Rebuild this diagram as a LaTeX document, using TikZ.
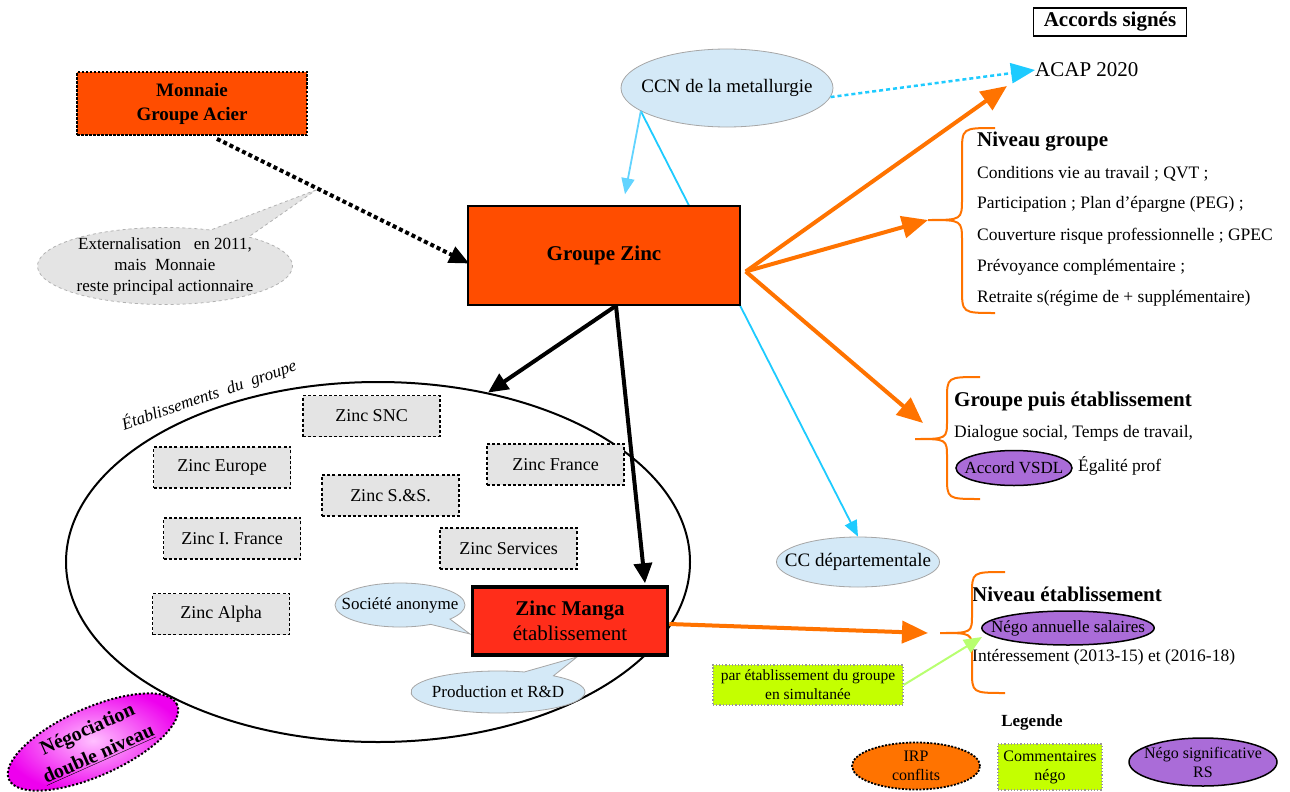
\documentclass[tikz,border=0pt]{standalone}
\usepackage{fontspec}
\setmainfont{Liberation Serif}
\usetikzlibrary{shapes.geometric,shapes.callouts,arrows.meta,calc}
\definecolor{zred}{HTML}{FF4D00}
\definecolor{zmanga}{HTML}{FF2D1A}
\definecolor{zorange}{HTML}{FF7300}
\definecolor{zlime}{HTML}{C4FF00}
\definecolor{zpurple}{HTML}{AA6CD8}
\definecolor{zblue}{HTML}{D4E9F7}
\definecolor{zgrey}{HTML}{E4E4E4}
\definecolor{zcyan}{HTML}{1ECBFF}
\definecolor{zcyanl}{HTML}{62D4FF}
\definecolor{zgreen}{HTML}{B8FF70}
\definecolor{zmagin}{HTML}{FFC0FF}
\definecolor{zmagout}{HTML}{EE00EE}
\newcommand{\myfs}[2]{\fontsize{#1}{#2}\selectfont}
\begin{document}
\begin{tikzpicture}[x=1pt,y=-1pt,
 zbox/.style={draw, line width=1.8pt, dash pattern=on 3pt off 2.2pt, fill=zgrey, minimum width=137pt, minimum height=41pt, font=\myfs{18}{22}},
 bluebub/.style={ellipse callout, draw=gray!70, fill=zblue, line width=0.8pt, callout pointer arc=22, inner xsep=-16pt, inner ysep=0pt, font=\myfs{17}{21}},
 blueell/.style={ellipse, draw=gray!70, fill=zblue, line width=0.8pt, inner xsep=-20pt, inner ysep=0pt, font=\myfs{19}{23}},
 heading/.style={anchor=west, font=\myfs{21}{25}\bfseries, inner sep=0pt},
 item/.style={anchor=west, font=\myfs{17.5}{21}, inner sep=0pt},
 oarrow/.style={draw=zorange, line width=4pt, -{Triangle[length=26pt,width=22pt]}},
 barrow/.style={draw=black, line width=4pt, -{Triangle[length=20pt,width=18pt]}},
 obrace/.style={draw=zorange, line width=2pt},
 purpell/.style={ellipse, draw, line width=1.5pt, fill=zpurple, inner xsep=-16pt, inner ysep=-5pt, font=\myfs{17}{20}},
 limebox/.style={draw=gray!80, dotted, line width=1.2pt, fill=zlime, align=center, inner sep=2pt}
]
\fill[white] (0,0) rectangle (1290,792);
\useasboundingbox (0,0) rectangle (1290,792);

% blue ellipses and the long cyan line (behind Groupe Zinc)
\node[blueell, minimum width=212pt, minimum height=78pt] (ccn) at (727,88) {CCN de la metallurgie};
\node[blueell, minimum width=163pt, minimum height=50pt] (ccdep) at (858,562) {CC départementale};
\draw[draw=zcyan, line width=1.8pt, -{Triangle[length=16pt,width=13pt]}] (ccn.195) -- (ccdep.north);

% big ellipse with establishments
\node[ellipse, draw, line width=2pt, minimum width=624pt, minimum height=360pt] (etab) at (378,562) {};
\node[rotate=19, font=\myfs{17}{20}\itshape] (etablab) at (209,395) {Établissements\ \ du\ \ groupe};
\node[zbox] (snc) at (371.5,416) {Zinc SNC};
\node[zbox] (eur) at (222,467.5) {Zinc Europe};
\node[zbox] (fra) at (555.5,464.5) {Zinc France};
\node[zbox] (ss) at (390.5,495.5) {Zinc S.\&S.};
\node[zbox] (ifr) at (232,538.5) {Zinc I. France};
\node[zbox] (serv) at (508.5,548.5) {Zinc Services};
\node[zbox] (alpha) at (221,614) {Zinc Alpha};

% callouts round Zinc Manga
\node[bluebub, minimum width=130pt, minimum height=44pt, callout absolute pointer={(470,634)}] (soc) at (400,605) {Société anonyme};
\node[bluebub, minimum width=174pt, minimum height=42pt, callout absolute pointer={(577,657)}] (prod) at (498,692) {Production et R\&D};
\node[draw, line width=3.5pt, fill=zmanga, minimum width=195pt, minimum height=68pt, align=center, font=\myfs{21}{25}] (zm) at (570,621) {\bfseries Zinc Manga\\établissement};

% top left
\node[draw, line width=1.8pt, dash pattern=on 2.5pt off 1.5pt, fill=zred, minimum width=230pt, minimum height=63pt, align=center, font=\myfs{19}{24}\bfseries] (monnaie) at (192,103.5) {Monnaie\\Groupe Acier};
\node[ellipse callout, draw=gray!60, dashed, line width=0.8pt, fill=zgrey, inner xsep=-6pt, inner ysep=-6pt, minimum width=255pt, minimum height=77pt, callout absolute pointer={(316,190)}, callout pointer arc=20, align=center, font=\myfs{17}{21}] (ext) at (165,266) {Externalisation\ \ \ en 2011,\\mais\ \ Monnaie\\reste\ principal\ actionnaire};

% Groupe Zinc
\node[draw, line width=1.5pt, fill=zred, minimum width=272pt, minimum height=99pt, font=\myfs{21}{25}\bfseries] (gz) at (604,255.5) {Groupe Zinc};
\coordinate (gzc) at ($(gz.north)+(21,-11)$);
\draw[draw=zcyanl, line width=1.8pt, -{Triangle[length=16pt,width=13pt]}] (ccn.195) -- (gzc);

% right side texts
\node[draw, line width=1.2pt, minimum width=153pt, minimum height=28pt, inner sep=1pt, font=\myfs{21}{24}\bfseries] (acc) at (1110,22) {Accords signés};
\node[anchor=west, inner sep=0pt, font=\myfs{21}{25}] (acap) at (1035,70) {ACAP 2020};

\node[heading] (ng) at (977,142) {Niveau groupe};
\node[item] (ng1) at (977,174) {Conditions vie au travail ; QVT ;};
\node[item] (ng2) at (977,204) {Participation ; Plan d'épargne (PEG) ;};
\node[item] (ng3) at (977,236) {Couverture risque professionnelle ; GPEC};
\node[item] (ng4) at (977,267) {Prévoyance complémentaire ;};
\node[item] (ng5) at (977,298) {Retraite s(régime de + supplémentaire)};

\node[heading] (gpe) at (954,401) {Groupe puis établissement};
\node[item] (gpe1) at (954,433) {Dialogue social, Temps de travail,};
\node[purpell, minimum width=116pt, minimum height=35pt] (vsdl) at (1014,468) {Accord VSDL};
\node[item] (egal) at (1078,466) {Égalité prof};

\node[heading] (ne) at (972,594) {Niveau établissement};
\node[purpell, minimum width=172pt, minimum height=34pt] (nas) at (1068,628) {Négo annuelle salaires};
\node[item] (int) at (972,657) {Intéressement (2013-15) et (2016-18)};

\node[limebox, minimum width=190pt, minimum height=40pt, font=\myfs{15.5}{19}] (par) at (808,685) {par établissement du groupe\\en simultanée};

% braces
\draw[obrace] (995,128) .. controls (962,128) .. (962,153) -- (962,198) .. controls (962,220) .. (928,220) .. controls (962,220) .. (962,242) -- (962,288) .. controls (962,313) .. (995,313);
\draw[obrace] (980,377) .. controls (947,377) .. (947,400) -- (947,420) .. controls (947,439) .. (915,439) .. controls (947,439) .. (947,458) -- (947,476) .. controls (947,499) .. (980,499);
\draw[obrace] (1005,572) .. controls (972,572) .. (972,595) -- (972,614) .. controls (972,633) .. (940,633) .. controls (972,633) .. (972,652) -- (972,670) .. controls (972,693) .. (1005,693);
\coordinate (b1) at (928,220);
\coordinate (b2) at (923,423);
\coordinate (b3) at (928,633);
\coordinate (b3g) at (982,637);
\coordinate (acapin) at ($(acap.west)+(-28,16)$);

% legend
\node[font=\myfs{17}{20}\bfseries] (leg) at (1032,722) {Legende};
\node[ellipse, draw, dash pattern=on 2pt off 1.5pt, line width=1.8pt, fill=zorange, inner xsep=0pt, inner ysep=-4pt, minimum width=128pt, minimum height=47pt, align=center, font=\myfs{16}{19}] (irp) at (916,766) {IRP\\conflits};
\node[limebox, minimum width=104pt, minimum height=46pt, font=\myfs{16}{19}] (comm) at (1050,767) {Commentaires\\négo};
\node[purpell, minimum width=148pt, minimum height=48pt, align=center, font=\myfs{16}{19}] (nrs) at (1203,762) {Négo significative\\RS};

% Négociation double niveau
\node[ellipse, rotate=24, draw, line width=2pt, dash pattern=on 2pt off 2pt, inner color=zmagin, outer color=zmagout, inner xsep=-10pt, inner ysep=-8pt, minimum width=184pt, minimum height=68pt, align=center, font=\myfs{20}{27}\bfseries] (negdbl) at (93,742) {Négociation\\\underline{double niveau}};

% connectors
\draw[line width=4pt, dash pattern=on 4pt off 3pt, -{Triangle[length=20pt,width=17pt]}] ($(monnaie.south)+(25,3)$) -- ($(gz.west)+(2,8)$);
\draw[draw=zcyan, line width=2.5pt, dash pattern=on 4pt off 3pt, -{Triangle[length=24pt,width=20pt]}] (ccn.-5) -- (acap.west);
\coordinate (gzr) at ($(gz.east)+(5,16)$);
\draw[oarrow] (gzr) -- (acapin);
\draw[oarrow] (gzr) -- (b1);
\draw[oarrow] (gzr) -- (b2);
\draw[oarrow] ($(zm.east)+(0,3)$) -- (b3);
\coordinate (gzb) at ($(gz.south)+(12,0)$);
\draw[barrow] (gzb) -- (etab.57);
\draw[barrow] (gzb) -- ($(zm.north)+(75,-2)$);
\draw[draw=zgreen, line width=2pt, -{Triangle[length=18pt,width=15pt]}] (par.east) -- (b3g);
\end{tikzpicture}
\end{document}
